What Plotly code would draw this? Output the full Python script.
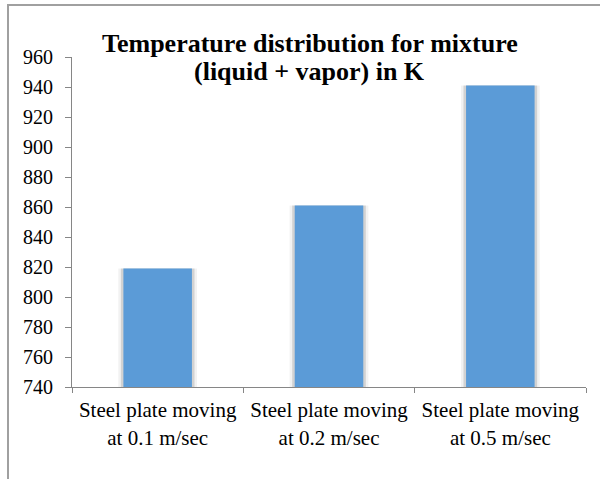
import plotly.graph_objects as go

# Chart data
categories = [
    "Steel plate moving<br>at 0.1 m/sec",
    "Steel plate moving<br>at 0.2 m/sec",
    "Steel plate moving<br>at 0.5 m/sec",
]
temperatures = [819, 861, 941]
y_ticks = [740, 760, 780, 800, 820, 840, 860, 880, 900, 920, 940, 960]
title_lines = ["Temperature distribution for mixture", "(liquid + vapor) in K"]

serif = "Liberation Serif"
axis_grey = "#868686"

fig = go.Figure()

# soft drop shadow behind each column
fig.add_trace(go.Bar(
    x=categories, y=temperatures, base=0, width=0.46,
    marker=dict(color="rgba(0,0,0,0.05)", line=dict(width=0)),
    hoverinfo="skip", showlegend=False,
))
fig.add_trace(go.Bar(
    x=categories, y=temperatures, base=0, width=0.43,
    marker=dict(color="rgba(0,0,0,0.13)", line=dict(width=0)),
    hoverinfo="skip", showlegend=False,
))
# the columns themselves
fig.add_trace(go.Bar(
    x=categories, y=temperatures, base=0, width=0.4,
    marker=dict(color="#5b9bd7", line=dict(width=0)),
    showlegend=False,
))

# two-line bold title, one annotation per line for tight spacing
title_notes = [
    dict(
        text=f"<b>{line}</b>",
        xref="paper", yref="paper", x=0.463, y=y,
        xanchor="center", yanchor="middle", showarrow=False,
        font=dict(family=serif, size=26, color="#000000"),
    )
    for line, y in zip(title_lines, [1.042, 0.955])
]

fig.update_layout(
    width=600, height=479,
    margin=dict(l=72, r=14, t=57, b=92),
    paper_bgcolor="white", plot_bgcolor="white",
    barmode="overlay",
    font=dict(family=serif, size=20, color="#000000"),
    xaxis=dict(
        type="category",
        showline=True, linecolor=axis_grey, linewidth=1,
        ticks="outside", tickson="boundaries", ticklen=5,
        tickcolor=axis_grey, tickwidth=1,
        ticklabelstandoff=4,
        showgrid=False, zeroline=False,
        tickfont=dict(family=serif, size=21, color="#000000"),
    ),
    yaxis=dict(
        range=[740, 960],
        tickvals=y_ticks,
        showline=True, linecolor=axis_grey, linewidth=1,
        ticks="outside", ticklen=6, tickcolor=axis_grey, tickwidth=1,
        ticklabelstandoff=8,
        showgrid=False, zeroline=False,
        tickfont=dict(family=serif, size=20, color="#000000"),
    ),
    annotations=title_notes,
    shapes=[dict(
        type="rect", xref="paper", yref="paper",
        x0=-0.1245, x1=1.3, y0=-0.6, y1=1.1576,
        line=dict(color="#a0a0a0", width=2), fillcolor="rgba(0,0,0,0)",
        layer="below",
    )],
)

fig.write_html("out.html")
